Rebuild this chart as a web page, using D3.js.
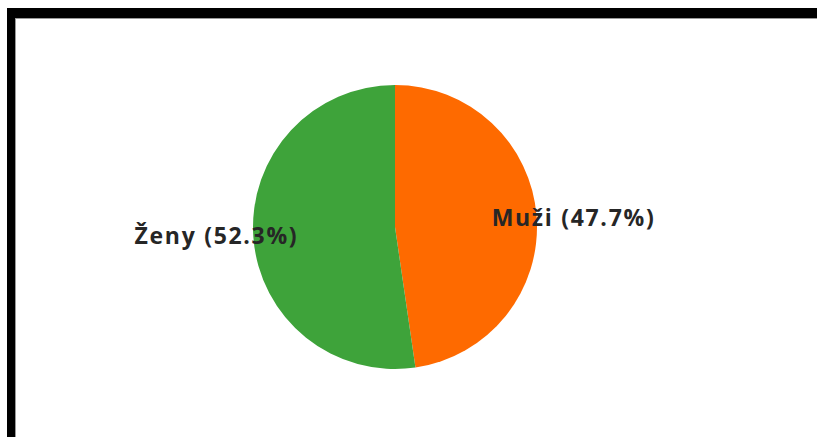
<!DOCTYPE html>
<html>
<head>
<meta charset="utf-8">
<script src="https://cdn.jsdelivr.net/npm/d3@7"></script>
<style>
    body { margin: 0; background: #fff; }
    svg { display: block; }
</style>
</head>
<body>
<div id="chart"></div>
<script>
// data
let categories = ["Muži", "Ženy"];
let shares = [47.7, 52.3];
let colors = ["#fe6a00", "#3ea33a"];

let width = 817, height = 437;
let cx = 395, cy = 227, radius = 142;

let svg = d3.select("#chart")
    .append("svg")
    .attr("width", width)
    .attr("height", height);

// frame: thick black band on top and left, thin grey inner edge
svg.append("rect").attr("x", 7).attr("y", 8).attr("width", width - 7).attr("height", height - 8).attr("fill", "#000");
svg.append("rect").attr("x", 15).attr("y", 18).attr("width", width - 15).attr("height", height - 18).attr("fill", "#9a9a9a");
svg.append("rect").attr("x", 16).attr("y", 19).attr("width", width - 16).attr("height", height - 19).attr("fill", "#fff");

let data = categories.map(function (c, i) { return { name: c, value: shares[i], color: colors[i] }; });

let pie = d3.pie()
    .sort(null)
    .value(function (d) { return d.value; });

let arc = d3.arc().innerRadius(0).outerRadius(radius);
let labelArc = d3.arc().innerRadius(179).outerRadius(179);

let g = svg.append("g")
    .attr("transform", "translate(" + cx + "," + cy + ")");

let arcs = pie(data);

g.selectAll("path")
    .data(arcs)
    .enter()
    .append("path")
    .attr("d", arc)
    .attr("fill", function (d) { return d.data.color; });

// labels sit out to the side, a bit flattened vertically
g.selectAll("text")
    .data(arcs)
    .enter()
    .append("text")
    .attr("transform", function (d) {
        let c = labelArc.centroid(d);
        return "translate(" + c[0] + "," + (c[1] * 0.68) + ")";
    })
    .attr("text-anchor", "middle")
    .attr("dy", "0.35em")
    .style("font-family", "'Open Sans', 'Noto Sans', sans-serif")
    .style("font-weight", "bold")
    .style("font-size", "23px")
    .style("letter-spacing", "1.7px")
    .attr("fill", "#262626")
    .text(function (d) { return d.data.name + " (" + d.data.value.toFixed(1) + "%)"; });
</script>
</body>
</html>
